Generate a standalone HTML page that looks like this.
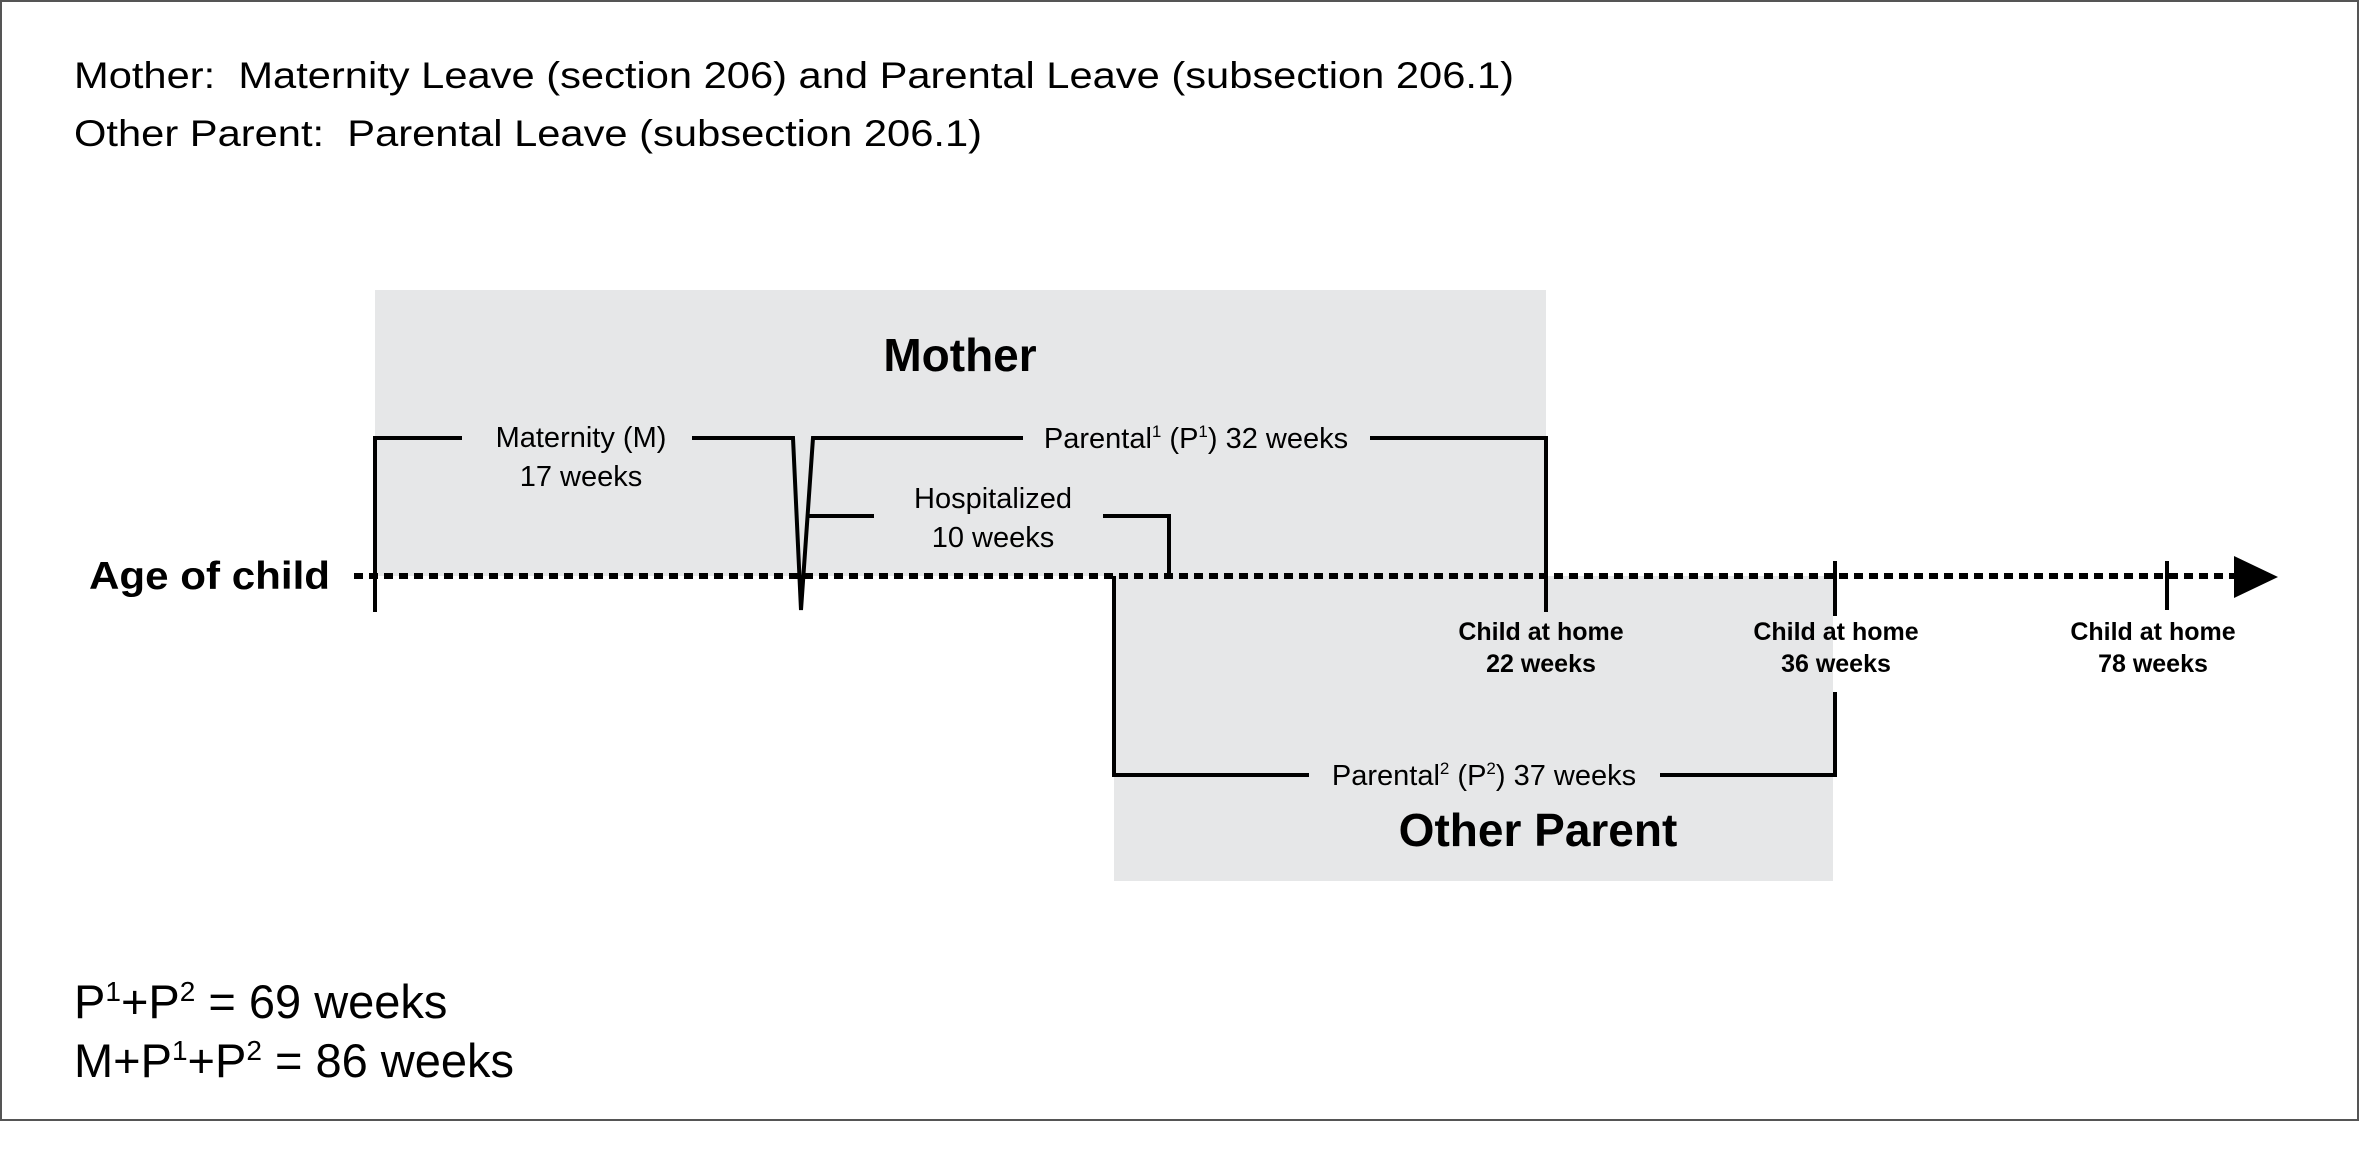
<!DOCTYPE html>
<html><head><meta charset="utf-8"><style>
html,body{margin:0;padding:0;background:#fff;}
svg{display:block;}
text{font-family:"Liberation Sans",Arial,sans-serif;fill:#000;}
</style></head><body>
<svg width="2360" height="1153" viewBox="0 0 2360 1153" xmlns="http://www.w3.org/2000/svg">
<rect x="1" y="1" width="2357" height="1119" fill="#fff" stroke="#555" stroke-width="2"/>
<text x="74" y="88" font-size="37" textLength="1440" lengthAdjust="spacingAndGlyphs">Mother:&#160; Maternity Leave (section 206) and Parental Leave (subsection 206.1)</text>
<text x="74" y="146" font-size="37" textLength="908" lengthAdjust="spacingAndGlyphs">Other Parent:&#160; Parental Leave (subsection 206.1)</text>
<rect x="375" y="290" width="1171" height="286" fill="#e6e7e8"/>
<rect x="1114" y="576" width="719" height="305" fill="#e6e7e8"/>
<text x="960" y="371" font-size="46" font-weight="bold" text-anchor="middle">Mother</text>
<text x="1538" y="846" font-size="46" font-weight="bold" text-anchor="middle">Other Parent</text>
<text x="89" y="589" font-size="39" font-weight="bold" textLength="241" lengthAdjust="spacingAndGlyphs">Age of child</text>
<line x1="354" y1="576" x2="2236" y2="576" stroke="#000" stroke-width="6" stroke-dasharray="9,6"/>
<polygon points="2234,556 2278,577 2234,598" fill="#000"/>
<g stroke="#000" stroke-width="4" fill="none">
<polyline points="375,612 375,438 462,438"/>
<polyline points="692,438 793,438 801,610 813,438 1023,438"/>
<polyline points="1370,438 1546,438 1546,612"/>
<polyline points="808,516 874,516"/>
<polyline points="1103,516 1169,516 1169,576"/>
<polyline points="1114,576 1114,775 1309,775"/>
<polyline points="1660,775 1835,775 1835,692"/>
<line x1="1835" y1="561" x2="1835" y2="616"/>
<line x1="2167" y1="561" x2="2167" y2="610"/>
</g>
<g font-size="29" text-anchor="middle">
<text x="581" y="447">Maternity (M)</text>
<text x="581" y="486">17 weeks</text>
<text x="993" y="508">Hospitalized</text>
<text x="993" y="547">10 weeks</text>
<text x="1196" y="448">Parental<tspan font-size="17" dy="-11">1</tspan><tspan dy="11"> (P</tspan><tspan font-size="17" dy="-11">1</tspan><tspan dy="11">) 32 weeks</tspan></text>
<text x="1484" y="785">Parental<tspan font-size="17" dy="-11">2</tspan><tspan dy="11"> (P</tspan><tspan font-size="17" dy="-11">2</tspan><tspan dy="11">) 37 weeks</tspan></text>
</g>
<g font-size="25" font-weight="bold" text-anchor="middle">
<text x="1541" y="640">Child at home</text>
<text x="1541" y="672">22 weeks</text>
<text x="1836" y="640">Child at home</text>
<text x="1836" y="672">36 weeks</text>
<text x="2153" y="640">Child at home</text>
<text x="2153" y="672">78 weeks</text>
</g>
<g font-size="47">
<text x="74" y="1018">P<tspan font-size="28" dy="-17">1</tspan><tspan dy="17">+P</tspan><tspan font-size="28" dy="-17">2</tspan><tspan dy="17"> = 69 weeks</tspan></text>
<text x="74" y="1077">M+P<tspan font-size="28" dy="-17">1</tspan><tspan dy="17">+P</tspan><tspan font-size="28" dy="-17">2</tspan><tspan dy="17"> = 86 weeks</tspan></text>
</g>
</svg>
</body></html>
